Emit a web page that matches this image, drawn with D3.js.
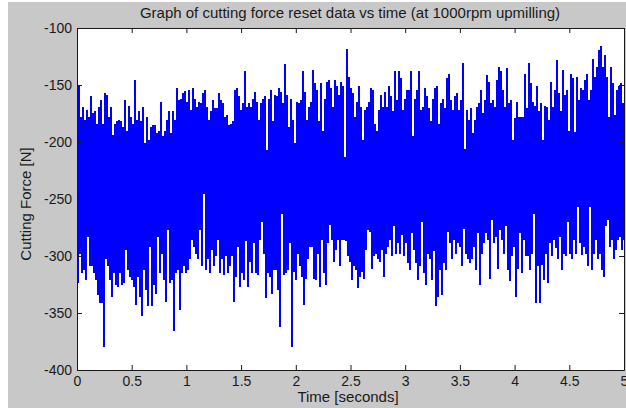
<!DOCTYPE html>
<html><head><meta charset="utf-8">
<script src="https://cdn.jsdelivr.net/npm/d3@7"></script>
<style>html,body{margin:0;padding:0;background:#fff;overflow:hidden}</style>
</head><body><svg id="chart" width="626" height="408"></svg>
<script>
// Chart text
const titleText = "Graph of cutting force reset data vs time (at 1000rpm upmilling)";
const xLabelText = "Time [seconds]";
const yLabelText = "Cutting Force [N]";

// Axis ticks
const xTickValues = [0, 0.5, 1, 1.5, 2, 2.5, 3, 3.5, 4, 4.5, 5];
const yTickValues = [-400, -350, -300, -250, -200, -150, -100];
const xDomain = [0, 5];
const yDomain = [-400, -100];

const upperPeaks = [
-148.5,-151,-178,-169,-181,-172,-178,-160,-175,-173,
-184,-169,-163,-184,-157,-159,-178,-169,-194,-184,
-182,-181,-182,-187,-163,-190,-168,-178,-184,-146,
-181,-173,-182,-169,-201,-178,-198,-187,-185,-185,
-192,-190,-165,-195,-190,-181,-173,-192,-173,-181,
-153,-163,-162,-157,-155,-165,-154,-172,-153,-162,
-169,-165,-166,-157,-154,-169,-181,-173,-163,-170,
-170,-157,-163,-166,-178,-176,-185,-184,-182,-154,
-153,-160,-172,-166,-138,-169,-166,-169,-162,-156,
-165,-181,-166,-162,-160,-207,-162,-154,-182,-159,
-160,-153,-156,-166,-132,-159,-187,-162,-181,-201,
-165,-166,-163,-138,-156,-181,-169,-165,-137,-148,
-154,-182,-148,-190,-162,-147,-146,-153,-169,-146,
-151,-159,-147,-151,-213,-118,-143,-153,-157,
-178,-165,-151,-169,-198,-172,-169,-165,-153,-154,
-184,-190,-172,-159,-169,-156,-169,-151,-160,-173,
-138,-163,-138,-144,-172,-162,-154,-154,-138,-195,
-162,-154,-138,-172,-169,-153,-160,-170,-182,-162,
-153,-151,-184,-166,-162,-170,-144,-140,-163,-172,
-160,-157,-172,-163,-131,-206,-172,-181,-170,-192,
-181,-169,-166,-154,-175,-163,-141,-147,-166,
-163,-169,-146,-134,-138,-154,-169,-135,-166,-163,
-198,-179,-165,-178,-178,-178,-140,-170,-131,-148,
-165,-168,-151,-173,-166,-198,-168,-169,-181,-147,
-169,-154,-128,-157,-173,-137,-159,-154,-190,-140,
-144,-191,-143,-163,-153,-154,-146,-140,-163,-154,
-127,-143,-134,-119,-116,-134,-124,-143,-178,-134,
-148,-176,-154,-151,-148,-166
];
const lowerTroughs = [
-324,-298,-315,-312,-321,-283,-309,-309,-315,-321,
-334,-341,-341,-380,-303,-309,-321,-336,-315,-325,
-327,-315,-325,-324,-295,-312,-318,-321,-327,-343,
-318,-336,-353,-312,-330,-344,-292,-344,-325,-333,
-283,-315,-298,-321,-340,-277,-324,-321,-366,-315,
-312,-347,-315,-309,-315,-312,-303,-286,-292,-298,
-303,-277,-309,-246,-312,-303,-315,-295,-309,-300,
-286,-315,-303,-317,-300,-315,-309,-300,-340,-318,
-292,-327,-315,-321,-287,-327,-305,-315,-289,-315,
-317,-286,-270,-298,-337,-315,-318,-333,-312,-312,
-330,-362,-263,-317,-315,-312,-289,-380,-314,-321,
-298,-309,-318,-343,-320,-303,-292,-292,-320,-321,
-298,-327,-286,-315,-325,-289,-273,-286,-305,-295,
-286,-309,-286,-286,-287,-300,-305,-321,-309,
-312,-328,-318,-314,-320,-295,-277,-279,-311,-300,
-298,-303,-305,-295,-318,-298,-292,-286,-300,-274,
-298,-289,-298,-282,-300,-289,-306,-312,-280,-295,
-306,-321,-309,-270,-315,-325,-298,-303,-321,-296,
-344,-336,-312,-334,-306,-312,-279,-289,-303,-286,
-298,-289,-292,-309,-276,-298,-303,-306,-303,-292,
-312,-280,-325,-298,-289,-280,-286,-320,-268,
-289,-283,-311,-277,-286,-298,-274,-312,-322,-300,
-292,-336,-311,-280,-315,-286,-300,-300,-312,-298,
-263,-341,-309,-341,-308,-321,-298,-324,-289,-300,
-286,-293,-303,-283,-312,-298,-300,-270,-298,-303,
-286,-298,-257,-289,-299,-292,-298,-309,-257,-312,
-298,-286,-303,-298,-312,-318,-274,-268,-292,-286,
-303,-295,-286,-283,-295,-286
];

// Build the time series: each sample step holds a peak followed by a trough
const sampleStep = (xDomain[1] - xDomain[0]) / (upperPeaks.length - 0.5);
const series = [];
upperPeaks.forEach((v, i) => {
  series.push({t: i * sampleStep, f: v});
  series.push({t: (i + 0.5) * sampleStep, f: lowerTroughs[i]});
});

const W = 626, H = 408;
const plot = {left: 77, top: 28, right: 624, bottom: 370};
const font = "'Liberation Sans', Arial, Helvetica, sans-serif";

const svg = d3.select("#chart");
svg.append("rect").attr("width", W).attr("height", H).attr("fill", "#ffffff");
svg.append("rect").attr("x", 8).attr("y", 2).attr("width", W - 8).attr("height", H - 2).attr("fill", "#c8c8c8");
svg.append("rect").attr("x", plot.left).attr("y", plot.top)
  .attr("width", plot.right - plot.left).attr("height", plot.bottom - plot.top).attr("fill", "#ffffff");

const x = d3.scaleLinear().domain(xDomain).range([plot.left, plot.right]);
const y = d3.scaleLinear().domain(yDomain).range([plot.bottom, plot.top]);

svg.append("clipPath").attr("id", "clip").append("rect")
  .attr("x", plot.left).attr("y", plot.top)
  .attr("width", plot.right - plot.left).attr("height", plot.bottom - plot.top);

const line = d3.line().x(d => x(d.t)).y(d => y(d.f));
svg.append("path").datum(series)
  .attr("clip-path", "url(#clip)")
  .attr("d", line)
  .attr("fill", "none")
  .attr("stroke", "#0000ff")
  .attr("stroke-width", 1.1)
  .attr("shape-rendering", "crispEdges");

const fmt = d => String(d);
function styleAxis(g, showLabels) {
  g.selectAll("path.domain").attr("stroke", "#1a1a1a");
  g.selectAll(".tick line").attr("stroke", "#1a1a1a");
  g.selectAll(".tick text").attr("fill", "#1a1a1a").style("font-family", font).style("font-size", "14px");
  if (!showLabels) g.selectAll(".tick text").remove();
}

svg.append("g").attr("transform", `translate(0,${plot.bottom})`)
  .call(d3.axisBottom(x).tickValues(xTickValues).tickFormat(fmt).tickSize(-5).tickSizeOuter(0).tickPadding(6))
  .call(g => styleAxis(g, true));
svg.append("g").attr("transform", `translate(0,${plot.top})`)
  .call(d3.axisTop(x).tickValues(xTickValues).tickSize(-5).tickSizeOuter(0))
  .call(g => styleAxis(g, false));
svg.append("g").attr("transform", `translate(${plot.left},0)`)
  .call(d3.axisLeft(y).tickValues(yTickValues).tickFormat(fmt).tickSize(-5).tickSizeOuter(0).tickPadding(5))
  .call(g => styleAxis(g, true));
svg.append("g").attr("transform", `translate(${plot.right},0)`)
  .call(d3.axisRight(y).tickValues(yTickValues).tickSize(-5).tickSizeOuter(0))
  .call(g => styleAxis(g, false));

svg.append("text").attr("x", 350).attr("y", 18).attr("text-anchor", "middle")
  .style("font-family", font).style("font-size", "15px").attr("fill", "#1a1a1a").text(titleText);
svg.append("text").attr("x", 348).attr("y", 402).attr("text-anchor", "middle")
  .style("font-family", font).style("font-size", "15px").attr("fill", "#1a1a1a").text(xLabelText);
svg.append("text").attr("transform", "translate(31,204) rotate(-90)").attr("text-anchor", "middle")
  .style("font-family", font).style("font-size", "15px").attr("fill", "#1a1a1a").text(yLabelText);
</script>
</body></html>
